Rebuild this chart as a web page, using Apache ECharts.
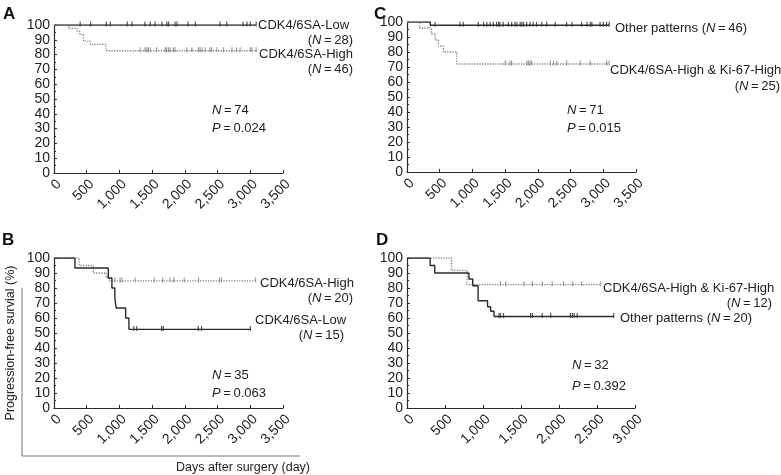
<!DOCTYPE html>
<html>
<head>
<meta charset="utf-8">
<script src="https://cdn.jsdelivr.net/npm/echarts@6/dist/echarts.min.js"></script>
<style>
html,body{margin:0;padding:0;background:#fff;}
#c{width:781px;height:475px;}
</style>
</head>
<body>
<div id="c"></div>
<script>
// ---------- DATA ----------
const yTicks = [0, 10, 20, 30, 40, 50, 60, 70, 80, 90, 100];
const xTicksABC = [0, 500, 1000, 1500, 2000, 2500, 3000, 3500];
const xTicksD = [0, 500, 1000, 1500, 2000, 2500, 3000];

// Panel A
const aLowCurve = [[0,100],[3090,100]];
const aLowCensor = [400,560,800,860,1120,1190,1390,1470,1545,1650,1725,1750,1850,1880,2050,2160,2540,2640,2890,2950,3000,3090];
const aHighCurve = [[0,100],[220,97.8],[355,95.7],[395,93.5],[450,89.1],[555,86.9],[795,82.6],[3090,82.6]];
const aHighCensor = [1315,1390,1420,1440,1470,1570,1700,1720,1750,1775,1825,1850,2030,2105,2205,2230,2260,2310,2385,2410,2490,2590,2720,2790,2845,3000,3025,3090];

// Panel C
const cOtherCurve = [[0,100],[355,97.8],[3090,97.8]];
const cOtherCensor = [430,810,860,1090,1170,1220,1270,1320,1370,1400,1420,1470,1550,1600,1650,1680,1730,1755,1780,1830,1880,1930,1980,2060,2135,2265,2440,2520,2670,2750,2800,2825,2950,3000,3050,3090];
const cHighCurve = [[0,100],[190,96],[375,92],[430,88],[480,84],[555,80],[760,72],[3090,72]];
const cHighCensor = [1500,1575,1600,1830,1855,1880,1905,2190,2240,2290,2440,2645,2800,3050,3090];

// Panel B
const bHighCurve = [[0,100],[385,95],[600,90],[800,87],[845,84.7],[3080,84.7]];
const bHighCensor = [930,1010,1040,1240,1530,1660,1770,1830,1990,2210,2530,2560,3080];
const bLowCurve = [[0,100],[320,93.3],[830,86.7],[885,80],[930,73.3],[950,66.7],[1095,60],[1145,52.4],[3000,52.4]];
const bLowCensor = [1220,1265,1645,1670,2205,2255,3000];

// Panel D
const dHighCurve = [[0,100],[585,91.7],[790,82.2],[2550,82.2]];
const dHighCensor = [1230,1300,1540,1650,1780,1910,2060,2180,2300,2550];
const dOtherCurve = [[0,100],[305,95],[365,90],[815,86],[865,81.5],[935,71.5],[1060,67.5],[1100,64.5],[1145,61],[2720,61]];
const dOtherCensor = [1210,1230,1270,1625,1650,1780,1890,2150,2175,2200,2240,2720];

// ---------- CHART ----------
const FONT = "'Liberation Sans', Arial, Helvetica, sans-serif";
const DARK = '#2b2b2b';
const GRAY = '#858585';

function survAt(curve, t) {
  let v = curve[0][1];
  for (const p of curve) { if (p[0] <= t) v = p[1]; }
  return v;
}

const grids = [
  {left: 54, top: 25, width: 229, height: 148},   // A
  {left: 407, top: 22, width: 229, height: 150},  // C
  {left: 54, top: 258, width: 229, height: 150},  // B
  {left: 407, top: 258, width: 228, height: 150}  // D
];
const xMax = [3500, 3500, 3500, 3000];

const xAxes = grids.map((g, i) => ({
  type: 'value', gridIndex: i, min: 0, max: xMax[i], interval: 500,
  axisLine: {lineStyle: {color: DARK, width: 1.2}},
  axisTick: {inside: true, length: 3, lineStyle: {color: DARK}},
  splitLine: {show: false},
  axisLabel: {
    rotate: 45, fontSize: 14, color: '#222', fontFamily: FONT, margin: 4,
    verticalAlign: 'top',
    formatter: v => v.toLocaleString('en-US')
  }
}));
const yAxes = grids.map((g, i) => ({
  type: 'value', gridIndex: i, min: 0, max: 100, interval: 10,
  axisLine: {show: true, lineStyle: {color: DARK, width: 1.2}},
  axisTick: {show: true, inside: true, length: 3, lineStyle: {color: DARK}},
  minorTick: {show: true, splitNumber: 2, length: 2, lineStyle: {color: DARK}},
  splitLine: {show: false},
  axisLabel: {fontSize: 14, color: '#222', fontFamily: FONT, margin: 4}
}));

function curveSeries(idx, curve, dark) {
  return {
    type: 'line', xAxisIndex: idx, yAxisIndex: idx, step: 'end',
    data: curve, symbol: 'none', silent: true, animation: false,
    lineStyle: dark ? {color: DARK, width: 1.4} : {color: GRAY, width: 1.3, type: 'dotted'}
  };
}
function censorSeries(idx, curve, censor, dark) {
  return {
    type: 'scatter', xAxisIndex: idx, yAxisIndex: idx,
    data: censor.map(t => [t, survAt(curve, t)]),
    symbol: 'rect', symbolSize: [1.2, 5], symbolOffset: [0, -1],
    itemStyle: {color: dark ? DARK : GRAY}, silent: true, animation: false
  };
}

const series = [
  curveSeries(0, aLowCurve, true), censorSeries(0, aLowCurve, aLowCensor, true),
  curveSeries(0, aHighCurve, false), censorSeries(0, aHighCurve, aHighCensor, false),
  curveSeries(1, cOtherCurve, true), censorSeries(1, cOtherCurve, cOtherCensor, true),
  curveSeries(1, cHighCurve, false), censorSeries(1, cHighCurve, cHighCensor, false),
  curveSeries(2, bHighCurve, false), censorSeries(2, bHighCurve, bHighCensor, false),
  curveSeries(2, bLowCurve, true), censorSeries(2, bLowCurve, bLowCensor, true),
  curveSeries(3, dHighCurve, false), censorSeries(3, dHighCurve, dHighCensor, false),
  curveSeries(3, dOtherCurve, true), censorSeries(3, dOtherCurve, dOtherCensor, true)
];

const RICH = {i: {fontStyle: 'italic', fontSize: 13, fontFamily: FONT, fill: '#222'}};
function txt(x, y, text, align, font) {
  return {
    type: 'text', x: x, y: y, silent: true,
    style: {
      text: text, fill: '#222', font: font || ('13px ' + FONT),
      align: align || 'left', verticalAlign: 'middle', rich: RICH
    }
  };
}
function letter(x, y, t) {
  return {type: 'text', x: x, y: y, silent: true,
    style: {text: t, fill: '#111', font: 'bold 17px ' + FONT, align: 'left', verticalAlign: 'top'}};
}
const SP = '\u2009=\u2009';

const graphic = [
  letter(3, 6, 'A'), letter(374, 6, 'C'), letter(2, 232, 'B'), letter(376, 232, 'D'),
  // Panel A
  txt(258, 25, 'CDK4/6SA-Low'),
  txt(353, 40, '({i|N}' + SP + '28)', 'right'),
  txt(259, 54, 'CDK4/6SA-High'),
  txt(353, 69, '({i|N}' + SP + '46)', 'right'),
  txt(212, 110, '{i|N}' + SP + '74'),
  txt(212, 128, '{i|P}' + SP + '0.024'),
  // Panel C
  txt(615, 28, 'Other patterns ({i|N}' + SP + '46)'),
  txt(610, 70, 'CDK4/6SA-High & Ki-67-High'),
  txt(780, 86, '({i|N}' + SP + '25)', 'right'),
  txt(567, 110, '{i|N}' + SP + '71'),
  txt(567, 128, '{i|P}' + SP + '0.015'),
  // Panel B
  txt(260, 283, 'CDK4/6SA-High'),
  txt(353, 298, '({i|N}' + SP + '20)', 'right'),
  txt(255, 320, 'CDK4/6SA-Low'),
  txt(344, 335, '({i|N}' + SP + '15)', 'right'),
  txt(212, 375, '{i|N}' + SP + '35'),
  txt(212, 393, '{i|P}' + SP + '0.063'),
  // Panel D
  txt(603, 288, 'CDK4/6SA-High & Ki-67-High'),
  txt(772, 303, '({i|N}' + SP + '12)', 'right'),
  txt(620, 318, 'Other patterns ({i|N}' + SP + '20)'),
  txt(572, 365, '{i|N}' + SP + '32'),
  txt(572, 386, '{i|P}' + SP + '0.392'),
  // shared axis titles and bracket
  {type: 'polyline', silent: true,
   shape: {points: [[22, 288], [22, 456], [300, 456]]},
   style: {stroke: '#777', lineWidth: 1, fill: null}},
  {type: 'text', silent: true, x: 11, y: 343, rotation: Math.PI / 2,
   style: {text: 'Progression-free survial (%)', fill: '#222', font: '12.5px ' + FONT,
           align: 'center', verticalAlign: 'middle'}},
  txt(243, 468, 'Days after surgery (day)', 'center', '12.5px ' + FONT)
];

const chart = echarts.init(document.getElementById('c'), null, {renderer: 'canvas'});
chart.setOption({
  animation: false,
  backgroundColor: '#fff',
  grid: grids,
  xAxis: xAxes,
  yAxis: yAxes,
  series: series,
  graphic: graphic
});
</script>
</body>
</html>
